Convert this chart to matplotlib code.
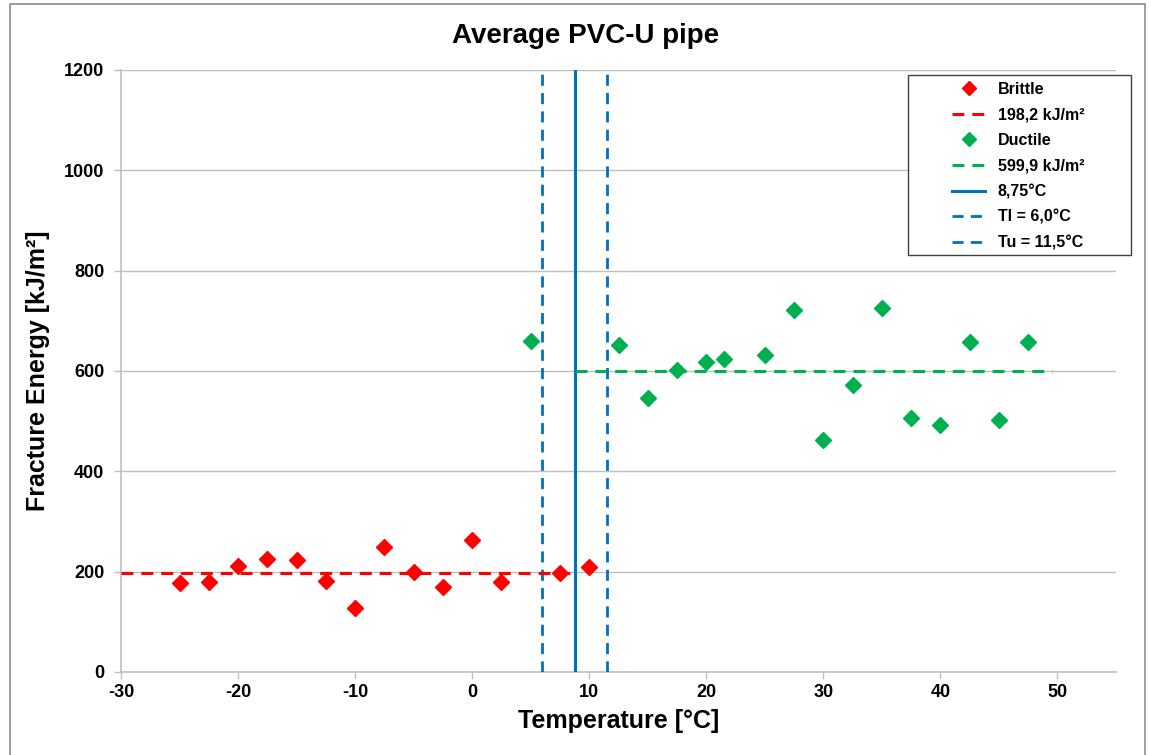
import matplotlib
matplotlib.use("Agg")
import matplotlib.pyplot as plt
from matplotlib.patches import Rectangle

plt.rcParams['font.family'] = ['Liberation Sans', 'DejaVu Sans']
plt.rcParams['font.weight'] = 'bold'
plt.rcParams['axes.unicode_minus'] = False

# ---- data ----
brittle_T = [-25, -22.5, -20, -17.5, -15, -12.5, -10, -7.5, -5, -2.5, 0, 2.5, 7.5, 10]
brittle_E = [178, 180, 212, 226, 223, 181, 128, 249, 199, 169, 263, 179, 197, 210]
ductile_T = [5, 12.5, 15, 17.5, 20, 21.5, 25, 27.5, 30, 32.5, 35, 37.5, 40, 42.5, 45, 47.5]
ductile_E = [660, 652, 547, 602, 617, 624, 632, 722, 463, 573, 725, 506, 492, 658, 503, 657]
brittle_mean = 198.2
ductile_mean = 599.9
T_mid = 8.75
T_low = 6.0
T_up = 11.5
brittle_mean_range = [-30, T_mid]
ductile_mean_range = [T_mid, 49.5]

x_ticks = [-30, -20, -10, 0, 10, 20, 30, 40, 50]
y_ticks = [0, 200, 400, 600, 800, 1000, 1200]

RED = '#FF0000'
GREEN = '#00B050'
BLUE = '#0070C0'
GRID = '#BFBFBF'

fig = plt.figure(figsize=(11.49, 7.55), dpi=100)
W, H = 1149, 755
ax = fig.add_axes([121 / W, 1 - 672 / H, (1116 - 121) / W, (672 - 70) / H])

# outer chart border
fig.patches.append(Rectangle((10 / W, -0.01), (1145 - 10) / W, 1 - 4 / H + 0.01,
                             transform=fig.transFigure, fill=False,
                             edgecolor='#8C8C8C', linewidth=1.2))

ax.set_xlim(-30, 55)
ax.set_ylim(0, 1200)
ax.set_xticks(x_ticks)
ax.set_yticks(y_ticks)
ax.yaxis.grid(True, color=GRID, linewidth=1.0)
ax.set_axisbelow(True)
for s in ['top', 'right']:
    ax.spines[s].set_visible(False)
for s in ['left', 'bottom']:
    ax.spines[s].set_color(GRID)
    ax.spines[s].set_linewidth(1.2)
ax.tick_params(axis='both', colors=GRID, labelcolor='black', labelsize=13,
               length=5, width=1.0, direction='out')
ax.tick_params(axis='y', pad=7)
for lab in ax.get_xticklabels() + ax.get_yticklabels():
    lab.set_fontweight('bold')

ax.plot(brittle_T, brittle_E, linestyle='none', marker='D', markersize=8.5,
        color=RED, label='Brittle', zorder=5)
ax.plot(brittle_mean_range, [brittle_mean, brittle_mean], color=RED, linewidth=2.2,
        dashes=(3.9, 2.6), label='198,2 kJ/m²', zorder=4)
ax.plot(ductile_T, ductile_E, linestyle='none', marker='D', markersize=8.5,
        color=GREEN, label='Ductile', zorder=5)
ax.plot(ductile_mean_range, [ductile_mean, ductile_mean], color=GREEN, linewidth=2.2,
        dashes=(3.9, 2.6), label='599,9 kJ/m²', zorder=4)
ax.axvline(T_mid, color=BLUE, linewidth=2.2, label='8,75°C', zorder=3)
ax.axvline(T_low, color=BLUE, linewidth=2.0, dashes=(4, 2.6), label='Tl = 6,0°C', zorder=3)
ax.axvline(T_up, color=BLUE, linewidth=2.0, dashes=(4, 2.6), label='Tu = 11,5°C', zorder=3)

fig.text(586 / W, 1 - 36 / H, 'Average PVC-U pipe', ha='center', va='center',
         fontsize=20, fontweight='bold')
ax.set_xlabel('Temperature [°C]', fontsize=18, fontweight='bold', labelpad=6)
ax.set_ylabel('Fracture Energy [kJ/m²]', fontsize=18, fontweight='bold', labelpad=10)

# legend box (frame drawn separately to match the reference placement)
ax.add_patch(Rectangle((908 / W, 1 - 255 / H), (1131 - 908) / W, (255 - 75) / H,
                       transform=fig.transFigure, facecolor='white',
                       edgecolor='#404040', linewidth=1.0, zorder=9, clip_on=False))
leg = ax.legend(loc='upper left', bbox_to_anchor=(952 / W, 1 - 82 / H),
                bbox_transform=fig.transFigure, fontsize=11.5, frameon=False,
                handlelength=2.07, labelspacing=0.66, borderpad=0,
                handletextpad=0.8, borderaxespad=0, markerscale=0.8)
leg.set_zorder(10)
for t in leg.get_texts():
    t.set_fontweight('bold')

fig.savefig('out.png', dpi=100)
